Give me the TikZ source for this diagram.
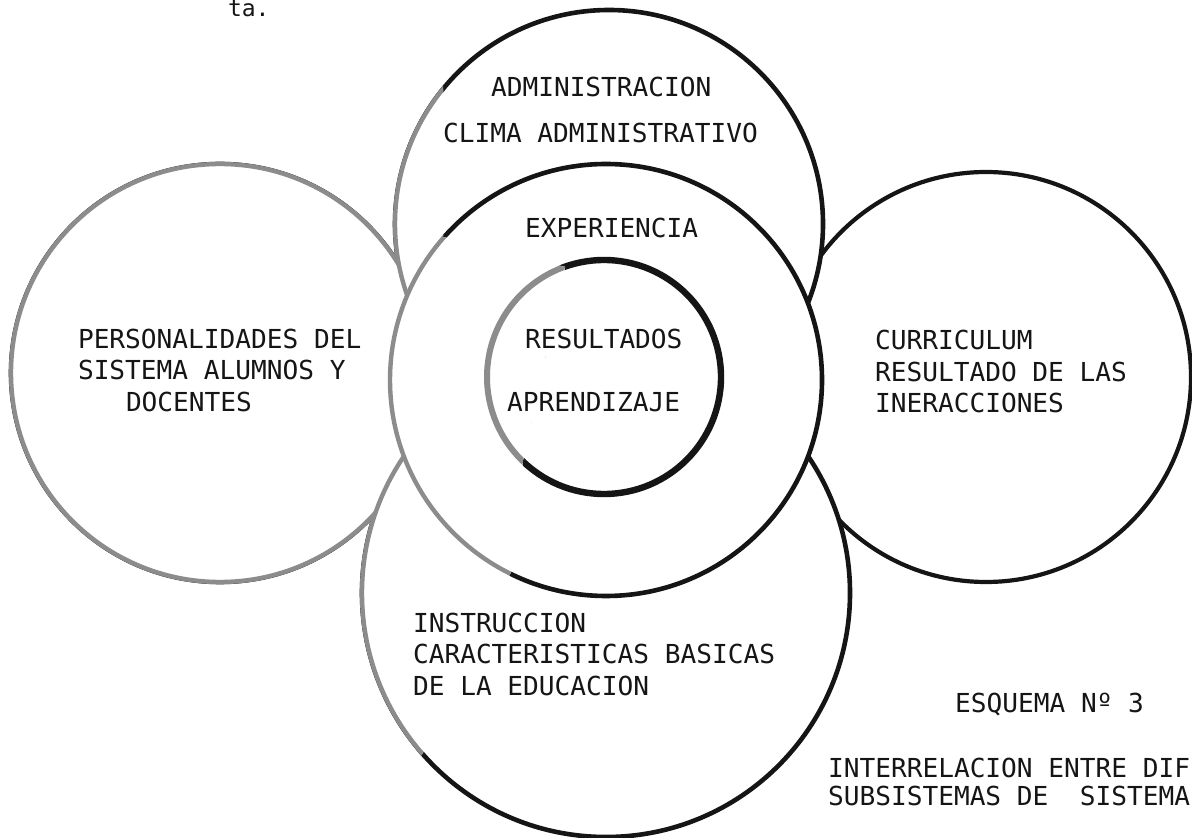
\documentclass[tikz,border=0pt]{standalone}
\usepackage{fontspec}
\newfontfamily\typew{DejaVu Sans Mono}
\definecolor{inkc}{HTML}{151515}
\definecolor{greyc}{HTML}{8C8C8C}
\tikzset{
  ring/.style={circle, draw=inkc, line width=2.3pt, fill=white, inner sep=0pt, outer sep=0pt},
  greyring/.style={draw=greyc, line width=2.2pt, fill=white},
  lbl/.style={anchor=base west, inner sep=0pt, outer sep=0pt, text=inkc,
    font=\typew\fontsize{13.08pt}{15.75pt}\selectfont},
}
\begin{document}
\begin{tikzpicture}[x=0.5pt,y=-0.5pt]
\useasboundingbox (0,0) rectangle (1192,838);
% circles, back to front
\node[ring, minimum size=209pt] (lft) at (220,373) {};
\node[ring, minimum size=205pt, line width=2.1pt] (rgt) at (986,377) {};
\node[ring, minimum size=214pt] (top) at (609,224) {};
\node[ring, minimum size=244pt] (bot) at (606,593) {};
\node[ring, minimum size=216pt] (mid) at (606,380) {};
\node[ring, minimum size=117pt, line width=3.2pt] (inn) at (604,377) {};
% lighter (grey) left part of the print
\begin{scope}
\clip (0,0) -- (445,0) -- (443,90) -- (443,237) -- (565,267) -- (523,460)
  -- (513,568) -- (422,755) -- (300,838) -- (0,838) -- cycle;
\draw[greyring] (lft.center) circle[radius=104.5pt];
\draw[greyring] (top.center) circle[radius=107pt];
\draw[greyring] (bot.center) circle[radius=122pt];
\draw[greyring] (mid.center) circle[radius=108pt];
\draw[greyring, line width=3pt] (inn.center) circle[radius=58.5pt];
\end{scope}
% labels
\node[lbl, font=\typew\fontsize{11.5pt}{14pt}\selectfont] (ta) at (228,17) {ta.};
\node[lbl] (adm1) at (491,97) {ADMINISTRACION};
\node[lbl] (adm2) at (443,143) {CLIMA ADMINISTRATIVO};
\node[lbl] (exp) at (525,238) {EXPERIENCIA};
\node[lbl] (res) at (525,349) {RESULTADOS};
\node[lbl] (apr) at (507,412) {APRENDIZAJE};
\node[lbl] (per1) at (78,349) {PERSONALIDADES DEL};
\node[lbl] (per2) at (78,380) {SISTEMA ALUMNOS Y};
\node[lbl] (per3) at (126,412) {DOCENTES};
\node[lbl] (cur1) at (875,350) {CURRICULUM};
\node[lbl] (cur2) at (875,382) {RESULTADO DE LAS};
\node[lbl] (cur3) at (875,413) {INERACCIONES};
\node[lbl] (ins1) at (413,632) {INSTRUCCION};
\node[lbl] (ins2) at (413,663) {CARACTERISTICAS BASICAS};
\node[lbl] (ins3) at (413,695) {DE LA EDUCACION};
\node[lbl] (esq) at (955,712) {ESQUEMA Nº 3};
\node[lbl] (int1) at (828,777) {INTERRELACION ENTRE DIF};
\node[lbl] (int2) at (828,805) {SUBSISTEMAS DE~~SISTEMA};
\end{tikzpicture}
\end{document}
